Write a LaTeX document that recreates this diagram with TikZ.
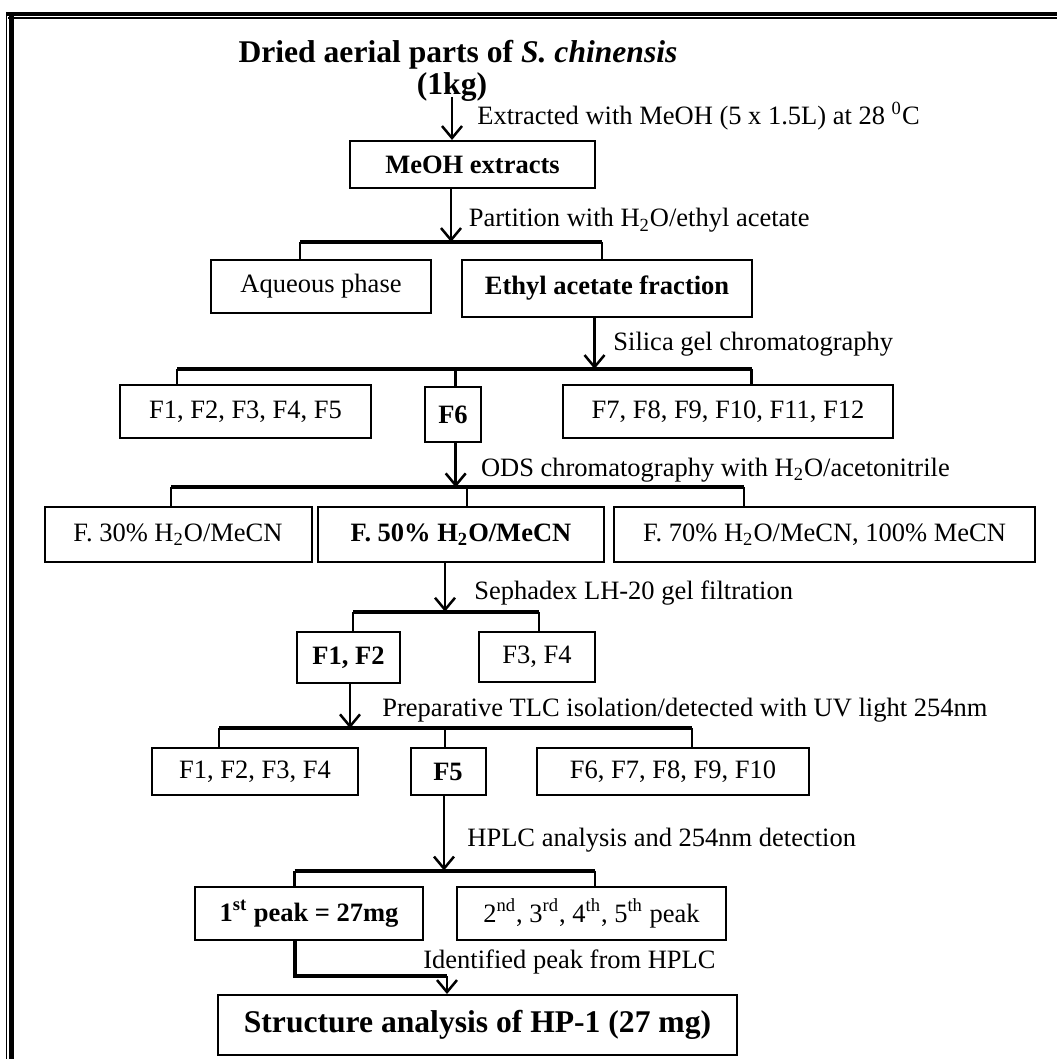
\documentclass[tikz,border=0pt]{standalone}
\usepackage{fontspec}
\setmainfont{Liberation Serif}
\usetikzlibrary{arrows.meta}
\newcommand{\bodyfont}{\fontsize{13.25}{15}\selectfont}
\newcommand{\bigfont}{\fontsize{15.8}{18}\selectfont\bfseries}
\begin{document}
\begin{tikzpicture}[x=0.5pt,y=-0.5pt,
  box/.style={draw, line width=1pt, inner sep=0pt, font=\bodyfont, align=center},
  lbl/.style={anchor=base west, inner sep=0pt, font=\bodyfont},
  arr/.style={line width=1.25pt, -{Straight Barb[length=6pt,width=10pt,line width=1.25pt]}},
  hbar/.style={line width=2pt},
  vdrop/.style={line width=1.25pt},
  framethick/.style={line width=2.2pt},
  framethin/.style={line width=0.6pt}]
\useasboundingbox (0,0) rectangle (1057,1059);
% frame
\draw[framethick] (6,14) -- (1057,14);
\draw[framethin] (8,18) -- (1057,18);
\draw[framethin] (6.5,12) -- (6.5,1059);
\draw[line width=2.5pt] (11.5,16) -- (11.5,1059);

% title
\node[anchor=base, inner sep=0pt, font=\bigfont] (title) at (458,63) {Dried aerial parts of \textit{S. chinensis}};
\node[anchor=base, inner sep=0pt, font=\bigfont] (kg) at (452,95) {(1kg)};

% boxes
\node[box, minimum width=122.5pt, minimum height=23.5pt] (meoh) at (472.5,164.5) {\textbf{MeOH extracts}};
\node[box, minimum width=110pt, minimum height=26.5pt] (aq) at (321,286.5) {Aqueous phase};
\node[box, minimum width=145pt, minimum height=28.5pt] (ea) at (607,288.5) {\textbf{Ethyl acetate fraction}};
\node[box, minimum width=125.5pt, minimum height=26.5pt] (f15) at (245.5,411.5) {F1, F2, F3, F4, F5};
\node[box, minimum width=28pt, minimum height=27.5pt] (f6) at (453,414.5) {\textbf{F6}};
\node[box, minimum width=165pt, minimum height=26.5pt] (f712) at (728,411.5) {F7, F8, F9, F10, F11, F12};
\node[box, minimum width=133.5pt, minimum height=27.5pt] (f30) at (178,534.5) {F. 30\% H\textsubscript{2}O/MeCN};
\node[box, minimum width=143pt, minimum height=27.5pt] (f50) at (461,534.5) {\textbf{F. 50\% H\textsubscript{2}O/MeCN}};
\node[box, minimum width=210.5pt, minimum height=27.5pt] (f70) at (824.5,534.5) {F. 70\% H\textsubscript{2}O/MeCN, 100\% MeCN};
\node[box, minimum width=51.5pt, minimum height=25.5pt] (f12) at (348.5,657.5) {\textbf{F1, F2}};
\node[box, minimum width=58pt, minimum height=25pt] (f34) at (537,657) {F3, F4};
\node[box, minimum width=103pt, minimum height=23.5pt] (g14) at (255,771.5) {F1, F2, F3, F4};
\node[box, minimum width=37.5pt, minimum height=23.5pt] (g5) at (448,771.5) {\textbf{F5}};
\node[box, minimum width=136pt, minimum height=23.5pt] (g610) at (673,771.5) {F6, F7, F8, F9, F10};
\node[box, minimum width=114pt, minimum height=26.5pt] (p1) at (309,913.5) {\textbf{1\textsuperscript{st} peak = 27mg}};
\node[box, minimum width=134.5pt, minimum height=26.5pt] (p25) at (591.5,913.5) {2\textsuperscript{nd}, 3\textsuperscript{rd}, 4\textsuperscript{th}, 5\textsuperscript{th} peak};
\node[box, minimum width=259.5pt, minimum height=30pt, font=\bigfont] (fin) at (477.5,1025) {Structure analysis of HP-1 (27 mg)};

% coordinates
\coordinate (a0) at (452,97);
\coordinate (b1l) at (300,242); \coordinate (b1m) at (451,242); \coordinate (b1r) at (602,242);
\coordinate (b2l) at (177,369); \coordinate (b2m) at (455.7,369); \coordinate (b2r) at (751.6,369); \coordinate (b2a) at (594.5,369);
\coordinate (b3l) at (171,487.3); \coordinate (b3m) at (467,487.3); \coordinate (b3r) at (744,487.3); \coordinate (b3a) at (455.7,487.3);
\coordinate (b4l) at (353,611.7); \coordinate (b4r) at (539,611.7); \coordinate (b4a) at (445,611.7);
\coordinate (b5l) at (219,728.3); \coordinate (b5m) at (445,728.3); \coordinate (b5r) at (692,728.3); \coordinate (b5a) at (350,728.3);
\coordinate (b6l) at (294.6,870.5); \coordinate (b6r) at (595,870.5); \coordinate (b6a) at (444,870.5);
\coordinate (e1) at (294.6,976); \coordinate (e2) at (447,976);

% arrows
\draw[arr] (a0) -- (meoh.north -| a0);
\draw[arr] (meoh.south -| b1m) -- (b1m);
\draw[arr] (ea.south -| b2a) -- (b2a);
\draw[arr] (f6.south -| b3a) -- (b3a);
\draw[arr] (f50.south -| b4a) -- (b4a);
\draw[arr] (f12.south -| b5a) -- (b5a);
\draw[arr] (g5.south -| b6a) -- (b6a);

% bars
\draw[hbar] (b1l) -- (b1r);
\draw[vdrop] (b1l) -- (aq.north -| b1l);
\draw[vdrop] (b1r) -- (ea.north -| b1r);
\draw[hbar] (b2l) -- (b2r);
\draw[vdrop] (b2l) -- (f15.north -| b2l);
\draw[vdrop] (b2m) -- (f6.north -| b2m);
\draw[vdrop] (b2r) -- (f712.north -| b2r);
\draw[hbar] (b3l) -- (b3r);
\draw[vdrop] (b3l) -- (f30.north -| b3l);
\draw[vdrop] (b3m) -- (f50.north -| b3m);
\draw[vdrop] (b3r) -- (f70.north -| b3r);
\draw[hbar] (b4l) -- (b4r);
\draw[vdrop] (b4l) -- (f12.north -| b4l);
\draw[vdrop] (b4r) -- (f34.north -| b4r);
\draw[hbar] (b5l) -- (b5r);
\draw[vdrop] (b5l) -- (g14.north -| b5l);
\draw[vdrop] (b5m) -- (g5.north -| b5m);
\draw[vdrop] (b5r) -- (g610.north -| b5r);
\draw[hbar] (b6l) -- (b6r);
\draw[vdrop] (b6l) -- (p1.north -| b6l);
\draw[vdrop] (b6r) -- (p25.north -| b6r);
% elbow
\draw[line width=2pt] (p1.south -| e1) -- (e1) -- (e2);
\draw[arr] (e2) -- (fin.north -| e2);

% labels
\node[lbl] (l1) at (477,125) {Extracted with MeOH (5 x 1.5L) at 28 \textsuperscript{0}C};
\node[lbl] (l2) at (468.5,227) {Partition with H\textsubscript{2}O/ethyl acetate};
\node[lbl] (l3) at (613,350) {Silica gel chromatography};
\node[lbl] (l4) at (480.6,476) {ODS chromatography with H\textsubscript{2}O/acetonitrile};
\node[lbl] (l5) at (474,599) {Sephadex LH-20 gel filtration};
\node[lbl] (l6) at (382,716) {Preparative TLC isolation/detected with UV light 254nm};
\node[lbl] (l7) at (467,846) {HPLC analysis and 254nm detection};
\node[lbl] (l8) at (423,968) {Identified peak from HPLC};
\end{tikzpicture}
\end{document}
